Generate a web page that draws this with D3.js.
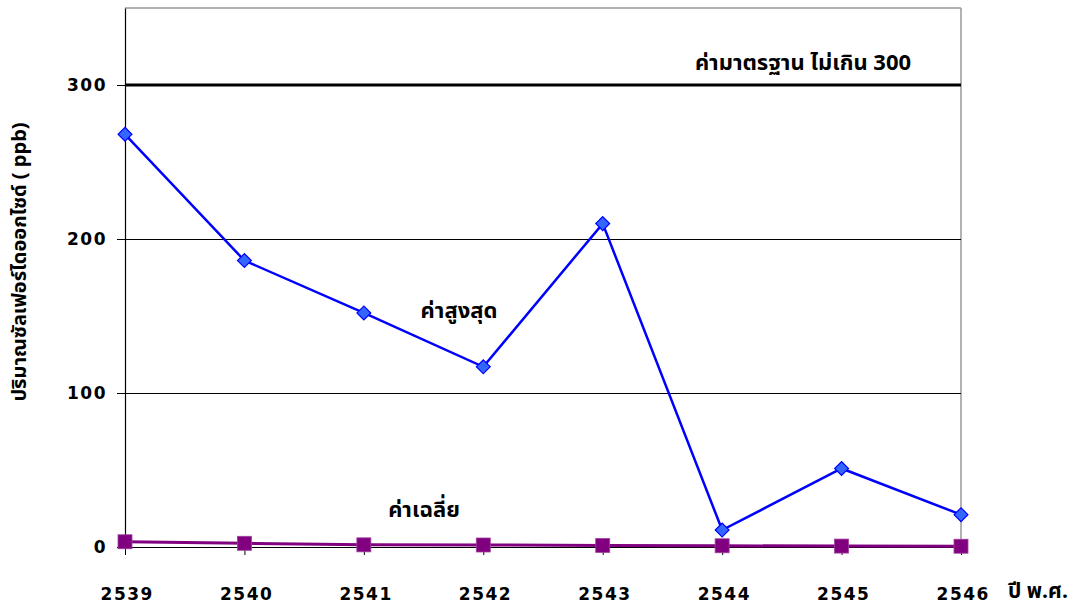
<!DOCTYPE html>
<html>
<head>
<meta charset="utf-8">
<script src="https://cdn.jsdelivr.net/npm/d3@7"></script>
<style>
  html, body { margin: 0; padding: 0; background: #fff; }
  svg { display: block; }
  .tick-label { font-family: "DejaVu Sans", Verdana, sans-serif; font-weight: bold; font-size: 17px; letter-spacing: 1.5px; fill: #000; }
  .thai { font-family: "Noto Sans Thai", "Noto Sans", "DejaVu Sans", sans-serif; font-weight: bold; fill: #000; }
</style>
</head>
<body>
<svg id="chart" width="1077" height="608"></svg>
<script>
// Sulfur dioxide (ppb) by Buddhist-era year
const years = [2539, 2540, 2541, 2542, 2543, 2544, 2545, 2546];
const maxValues = [268, 186, 152, 117, 210, 11, 51, 21];
const avgValues = [3.4, 2.4, 1.4, 1.3, 1.0, 0.8, 0.6, 0.5];
const standardLimit = 300;
const yTicks = [0, 100, 200, 300];
const yMax = 350;

const svg = d3.select("#chart");
const plotLeft = 125, plotRight = 961, plotTop = 8, plotBottom = 547;

const x = d3.scaleLinear().domain([years[0], years[years.length - 1]]).range([plotLeft, plotRight]);
const y = d3.scaleLinear().domain([0, yMax]).range([plotBottom, plotTop]);

// plot frame: grey top and right edges
svg.append("line").attr("x1", plotLeft).attr("x2", plotRight).attr("y1", y(yMax)).attr("y2", y(yMax))
  .attr("stroke", "#999").attr("stroke-width", 1.5);
svg.append("line").attr("x1", plotRight).attr("x2", plotRight).attr("y1", y(yMax)).attr("y2", plotBottom)
  .attr("stroke", "#999").attr("stroke-width", 1.5);

// horizontal gridlines
svg.append("g").selectAll("line")
  .data(yTicks.filter(d => d > 0 && d !== standardLimit))
  .join("line")
  .attr("x1", plotLeft).attr("x2", plotRight)
  .attr("y1", d => y(d) + 0.5).attr("y2", d => y(d) + 0.5)
  .attr("stroke", "#000").attr("stroke-width", 1);

// y axis
const yAxis = svg.append("g").attr("transform", `translate(${plotLeft},0)`)
  .call(d3.axisLeft(y).tickValues(yTicks).tickSizeInner(8).tickSizeOuter(0).tickPadding(10).tickFormat(d3.format("d")));
yAxis.select(".domain").attr("stroke", "#000").attr("stroke-width", 1.2);
yAxis.selectAll(".tick line").attr("stroke", "#000");
yAxis.attr("font-family", null).attr("font-size", null);
yAxis.selectAll(".tick text").attr("class", "tick-label");

// x axis
const xAxis = svg.append("g").attr("transform", `translate(0,${plotBottom})`)
  .call(d3.axisBottom(x).tickValues(years).tickSizeInner(8).tickSizeOuter(0).tickPadding(33).tickFormat(d3.format("d")));
xAxis.select(".domain").attr("stroke", "#000").attr("stroke-width", 1.2);
xAxis.selectAll(".tick line").attr("stroke", "#000");
xAxis.attr("font-family", null).attr("font-size", null);
xAxis.selectAll(".tick text").attr("class", "tick-label").attr("dx", "0.1em");

// standard limit line
svg.append("line")
  .attr("x1", plotLeft).attr("x2", plotRight)
  .attr("y1", y(standardLimit)).attr("y2", y(standardLimit))
  .attr("stroke", "#000").attr("stroke-width", 3);

const line = d3.line().x(d => x(d[0])).y(d => y(d[1]));

// average series (purple squares)
const avgData = years.map((yr, i) => [yr, avgValues[i]]);
svg.append("path").datum(avgData).attr("d", line)
  .attr("fill", "none").attr("stroke", "#800080").attr("stroke-width", 3);
svg.append("g").selectAll("rect").data(avgData).join("rect")
  .attr("x", d => x(d[0]) - 7).attr("y", d => y(d[1]) - 7)
  .attr("width", 14).attr("height", 14)
  .attr("fill", "#800080").attr("stroke", "#a040a0").attr("stroke-width", 0.8);

// maximum series (blue diamonds)
const maxData = years.map((yr, i) => [yr, maxValues[i]]);
svg.append("path").datum(maxData).attr("d", line)
  .attr("fill", "none").attr("stroke", "#0000ff").attr("stroke-width", 2.5);
svg.append("g").selectAll("path").data(maxData).join("path")
  .attr("d", d3.symbol().type(d3.symbolSquare).size(96))
  .attr("transform", d => `translate(${x(d[0])},${y(d[1])}) rotate(45)`)
  .attr("fill", "#3366ff").attr("stroke", "#0000ff").attr("stroke-width", 1.2);

// annotations
svg.append("text").attr("class", "thai").attr("font-size", 22)
  .attr("x", 803).attr("y", 70).attr("text-anchor", "middle")
  .text("ค่ามาตรฐาน ไม่เกิน 300");
svg.append("text").attr("class", "thai").attr("font-size", 22)
  .attr("x", 459).attr("y", 318).attr("text-anchor", "middle")
  .text("ค่าสูงสุด");
svg.append("text").attr("class", "thai").attr("font-size", 22)
  .attr("x", 424).attr("y", 517).attr("text-anchor", "middle")
  .text("ค่าเฉลี่ย");

// axis titles
svg.append("text").attr("class", "thai").attr("font-size", 20)
  .attr("transform", "translate(26,262) rotate(-90)").attr("text-anchor", "middle")
  .text("ปริมาณซัลเฟอร์ไดออกไซด์ ( ppb)");
svg.append("text").attr("class", "thai").attr("font-size", 21)
  .attr("x", 1038).attr("y", 598).attr("text-anchor", "middle")
  .text("ปี พ.ศ.");
</script>
</body>
</html>
